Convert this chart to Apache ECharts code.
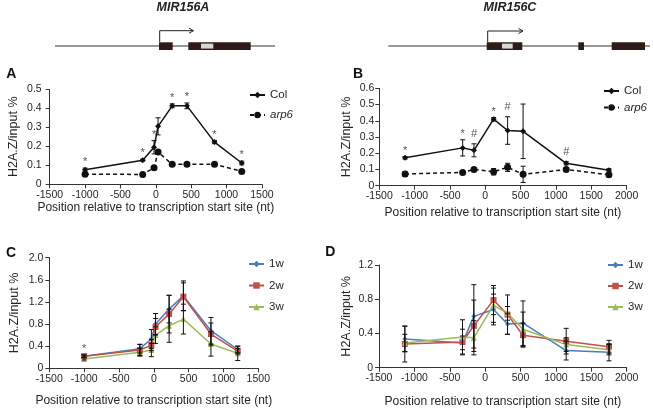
<!DOCTYPE html>
<html><head><meta charset="utf-8">
<script src="https://cdn.jsdelivr.net/npm/echarts@6/dist/echarts.min.js"></script>
<style>html,body{margin:0;padding:0;background:#fff}#c{width:653px;height:409px}</style>
</head><body><div id="c"></div>
<script>
// ---- Panel A (MIR156A): Col vs arp6 ----
var xA = [-1000, -185, -25, 32, 232, 440, 830, 1215];
var colA = [0.077, 0.127, 0.195, 0.305, 0.413, 0.413, 0.222, 0.112];
var colAErr = [0.008, 0.005, 0.035, 0.045, 0.01, 0.015, 0.008, 0.01];
var arpA = [0.053, 0.052, 0.087, 0.17, 0.105, 0.105, 0.105, 0.068];
var arpAErr = [0.005, 0.008, 0.005, 0.01, 0.006, 0.005, 0.006, 0.005];
var marksA = ['*', '*', '*', '', '*', '*', '*', '*'];

// ---- Panel B (MIR156C): Col vs arp6 ----
var xB = [-1135, -320, -160, 118, 316, 535, 1145, 1750];
var colB = [0.172, 0.233, 0.218, 0.41, 0.34, 0.335, 0.138, 0.095];
var colBErr = [0.008, 0.05, 0.04, 0.01, 0.085, 0.168, 0.01, 0.01];
var arpB = [0.072, 0.082, 0.1, 0.086, 0.113, 0.07, 0.1, 0.067];
var arpBErr = [0.015, 0.005, 0.006, 0.02, 0.025, 0.05, 0.012, 0.006];
var marksB = ['*', '*', '#', '*', '#', '', '#', ''];

// ---- Panel C (MIR156A): 1w / 2w / 3w ----
var xC = [-1000, -200, -35, 25, 220, 425, 820, 1205];
var w1C = [0.22, 0.355, 0.53, 0.80, 1.07, 1.31, 0.68, 0.34];
var w2C = [0.22, 0.33, 0.42, 0.75, 0.98, 1.295, 0.62, 0.31];
var w3C = [0.17, 0.29, 0.33, 0.60, 0.77, 0.89, 0.44, 0.27];
var e1C = [0.02, 0.08, 0.17, 0.19, 0.25, 0.27, 0.24, 0.06];
var e2C = [0.02, 0.10, 0.10, 0.15, 0.34, 0.25, 0.20, 0.05];
var e3C = [0.02, 0.07, 0.12, 0.15, 0.30, 0.27, 0.22, 0.13];
var marksC = ['*', '', '', '', '', '', '', ''];

// ---- Panel D (MIR156C): 1w / 2w / 3w ----
var xD = [-1135, -320, -160, 118, 316, 535, 1145, 1750];
var w1D = [0.335, 0.29, 0.60, 0.68, 0.51, 0.52, 0.20, 0.18];
var w2D = [0.277, 0.30, 0.49, 0.79, 0.62, 0.38, 0.31, 0.245];
var w3D = [0.29, 0.36, 0.35, 0.73, 0.635, 0.45, 0.27, 0.21];
var e1D = [0.15, 0.08, 0.37, 0.18, 0.12, 0.26, 0.11, 0.10];
var e2D = [0.21, 0.15, 0.30, 0.17, 0.23, 0.14, 0.15, 0.075];
var e3D = [0.10, 0.20, 0.20, 0.20, 0.08, 0.20, 0.08, 0.06];

var yTicksA = {min: 0, max: 0.5, interval: 0.1};
var yTicksB = {min: 0, max: 0.6, interval: 0.1};
var yTicksC = {min: 0, max: 2.0, interval: 0.4};
var yTicksD = {min: 0, max: 1.2, interval: 0.4};
var xTicksA = {min: -1500, max: 1500, interval: 500};
var xTicksB = {min: -1500, max: 2000, interval: 500};

var FONT = '"Liberation Sans", Arial, sans-serif';
var TXT = '#262626';
var chart = echarts.init(document.getElementById('c'), null, {renderer: 'canvas'});

function pairs(xs, ys) { return xs.map(function (x, i) { return [x, ys[i]]; }); }
function errData(xs, ys, es) { return xs.map(function (x, i) { return [x, ys[i], es[i]]; }); }

function errSeries(idx, xs, ys, es, marks) {
  return {
    type: 'custom', xAxisIndex: idx, yAxisIndex: idx, z: 5, silent: true,
    encode: {x: 0, y: 1},
    data: errData(xs, ys, es),
    renderItem: function (params, api) {
      var x = api.value(0), y = api.value(1), e = api.value(2);
      var t = api.coord([x, y + e]), b = api.coord([x, y - e]);
      var w = 2.5;
      var st = {stroke: '#111', lineWidth: 1};
      var ch = [
        {type: 'line', shape: {x1: t[0], y1: t[1], x2: b[0], y2: b[1]}, style: st},
        {type: 'line', shape: {x1: t[0] - w, y1: t[1], x2: t[0] + w, y2: t[1]}, style: st},
        {type: 'line', shape: {x1: b[0] - w, y1: b[1], x2: b[0] + w, y2: b[1]}, style: st}
      ];
      var m = marks ? marks[params.dataIndex] : '';
      if (m) {
        ch.push({type: 'text', style: {text: m, x: t[0], y: t[1] - (m === '*' ? 6 : 10),
          align: 'center', verticalAlign: 'middle', fill: '#555', font: '11px ' + FONT}});
      }
      return {type: 'group', children: ch};
    }
  };
}

function lineSeries(idx, name, xs, ys, color, symbol, size, dashed) {
  return {
    type: 'line', name: name, xAxisIndex: idx, yAxisIndex: idx, z: 3,
    data: pairs(xs, ys), symbol: symbol, symbolSize: size, showSymbol: true,
    lineStyle: {color: color, width: 1.5, type: dashed ? [4, 3] : 'solid'},
    itemStyle: {color: color, borderWidth: 0},
    emphasis: {disabled: true}, animation: false
  };
}

function xAx(idx, ticks, nameGap) {
  return {
    type: 'value', gridIndex: idx, min: ticks.min, max: ticks.max, interval: ticks.interval,
    name: 'Position relative to transcription start site (nt)', nameLocation: 'middle', nameGap: nameGap,
    nameTextStyle: {fontSize: 12, color: TXT, fontFamily: FONT},
    axisLine: {onZero: false, lineStyle: {color: '#333', width: 1}},
    axisTick: {show: true, length: 4, inside: false, lineStyle: {color: '#333'}},
    axisLabel: {fontSize: 10.5, color: TXT, fontFamily: FONT, margin: 5,
      formatter: function (v) { return String(Math.round(v)); }},
    splitLine: {show: false}
  };
}
function yAx(idx, ticks, nameGap, margin) {
  return {
    type: 'value', gridIndex: idx, min: ticks.min, max: ticks.max, interval: ticks.interval,
    name: 'H2A.Z/input %', nameLocation: 'middle', nameGap: nameGap, nameRotate: 90,
    nameTextStyle: {fontSize: 12.5, color: TXT, fontFamily: FONT},
    axisLine: {show: true, onZero: false, lineStyle: {color: '#333', width: 1}},
    axisTick: {show: true, length: 4, inside: false, lineStyle: {color: '#333'}},
    axisLabel: {fontSize: 10.5, color: TXT, fontFamily: FONT, margin: margin,
      formatter: function (v) { return Math.abs(v) < 1e-9 ? '0' : v.toFixed(1); }},
    splitLine: {show: false}
  };
}

var legText = {fontSize: 11.5, color: TXT, fontFamily: FONT, rich: {i: {fontStyle: 'italic', fontSize: 11.5, color: TXT, fontFamily: FONT}}};
function legend(left, top, names, gap) {
  return {
    left: left, top: top, orient: 'vertical', data: names, itemWidth: 15, itemHeight: 8, itemGap: gap,
    selectedMode: false, textStyle: legText, padding: 0,
    formatter: function (n) { return n === 'arp6' ? '{i|arp6}' : n; }
  };
}

var geneColor = '#2e1d16';
function geneA() {
  return [
    {type: 'line', shape: {x1: 55, y1: 46, x2: 275, y2: 46}, style: {stroke: '#333', lineWidth: 1.2}},
    {type: 'rect', shape: {x: 159, y: 42.3, width: 13.7, height: 7.7}, style: {fill: geneColor}},
    {type: 'rect', shape: {x: 188.3, y: 42.3, width: 62.4, height: 7.7}, style: {fill: geneColor}},
    {type: 'rect', shape: {x: 201, y: 43.6, width: 12.3, height: 5}, style: {fill: '#d6d6d6'}},
    {type: 'polyline', shape: {points: [[159.7, 42], [159.7, 30.7], [193, 30.7]]}, style: {stroke: '#222', lineWidth: 1, fill: null}},
    {type: 'polyline', shape: {points: [[189, 28.2], [193.5, 30.7], [189, 33.2]]}, style: {stroke: '#222', lineWidth: 1, fill: null}},
    {type: 'text', style: {text: 'MIR156A', x: 183, y: 8, align: 'center', verticalAlign: 'middle', font: 'italic bold 12.5px ' + FONT, fill: '#222'}}
  ];
}
function geneC() {
  return [
    {type: 'line', shape: {x1: 388.3, y1: 46, x2: 650, y2: 46}, style: {stroke: '#333', lineWidth: 1.2}},
    {type: 'rect', shape: {x: 486.7, y: 42.3, width: 35.6, height: 7.7}, style: {fill: geneColor}},
    {type: 'rect', shape: {x: 502, y: 43.6, width: 10.7, height: 5}, style: {fill: '#d6d6d6'}},
    {type: 'rect', shape: {x: 578.3, y: 42.3, width: 5.7, height: 7.7}, style: {fill: geneColor}},
    {type: 'rect', shape: {x: 611.7, y: 42.3, width: 33.3, height: 7.7}, style: {fill: geneColor}},
    {type: 'polyline', shape: {points: [[487.7, 42], [487.7, 31], [522.5, 31]]}, style: {stroke: '#222', lineWidth: 1, fill: null}},
    {type: 'polyline', shape: {points: [[518.5, 28.5], [523, 31], [518.5, 33.5]]}, style: {stroke: '#222', lineWidth: 1, fill: null}},
    {type: 'text', style: {text: 'MIR156C', x: 510, y: 8, align: 'center', verticalAlign: 'middle', font: 'italic bold 12.5px ' + FONT, fill: '#222'}}
  ];
}
function letter(t, x, y) {
  return {type: 'text', style: {text: t, x: x, y: y, align: 'center', verticalAlign: 'middle', font: 'bold 14px ' + FONT, fill: '#111'}};
}

var BLUE = '#4a7ebb', RED = '#c0504d', GREEN = '#9bbb59';

var option = {
  animation: false,
  backgroundColor: '#fff',
  textStyle: {fontFamily: FONT},
  grid: [
    {left: 49.7, top: 89.3, width: 212.2, height: 95, outerBoundsMode: 'none', containLabel: false},
    {left: 379.3, top: 88.3, width: 247.3, height: 97.4, outerBoundsMode: 'none', containLabel: false},
    {left: 49.3, top: 257.7, width: 209, height: 110.6, outerBoundsMode: 'none', containLabel: false},
    {left: 379, top: 265, width: 247.7, height: 102.7, outerBoundsMode: 'none', containLabel: false}
  ],
  xAxis: [xAx(0, xTicksA, 16), xAx(1, xTicksB, 21), xAx(2, xTicksA, 26), xAx(3, xTicksB, 28)],
  yAxis: [yAx(0, yTicksA, 30, 8), yAx(1, yTicksB, 26, 5), yAx(2, yTicksC, 28, 6), yAx(3, yTicksD, 26, 6)],
  legend: [
    legend(249, 89, ['Col', 'arp6'], 8),
    legend(603, 85, ['Col', 'arp6'], 4.5),
    legend(248, 258, ['1w', '2w', '3w'], 9.5),
    legend(607, 259, ['1w', '2w', '3w'], 9)
  ],
  graphic: [].concat(geneA(), geneC(), [
    letter('A', 11.3, 74.6), letter('B', 358, 74.3), letter('C', 11, 253.3), letter('D', 330.3, 252.3)
  ]),
  series: [
    lineSeries(0, 'Col', xA, colA, '#111', 'diamond', 6, false),
    lineSeries(0, 'arp6', xA, arpA, '#111', 'circle', 7, true),
    errSeries(0, xA, colA, colAErr, marksA),
    errSeries(0, xA, arpA, arpAErr, null),

    lineSeries(1, 'Col', xB, colB, '#111', 'diamond', 6, false),
    lineSeries(1, 'arp6', xB, arpB, '#111', 'circle', 7, true),
    errSeries(1, xB, colB, colBErr, marksB),
    errSeries(1, xB, arpB, arpBErr, null),

    lineSeries(2, '1w', xC, w1C, BLUE, 'diamond', 5, false),
    lineSeries(2, '2w', xC, w2C, RED, 'rect', 6, false),
    lineSeries(2, '3w', xC, w3C, GREEN, 'triangle', 6, false),
    errSeries(2, xC, w1C, e1C, null),
    errSeries(2, xC, w2C, e2C, marksC),
    errSeries(2, xC, w3C, e3C, null),

    lineSeries(3, '1w', xD, w1D, BLUE, 'diamond', 5, false),
    lineSeries(3, '2w', xD, w2D, RED, 'rect', 6, false),
    lineSeries(3, '3w', xD, w3D, GREEN, 'triangle', 6, false),
    errSeries(3, xD, w1D, e1D, null),
    errSeries(3, xD, w2D, e2D, null),
    errSeries(3, xD, w3D, e3D, null)
  ]
};
chart.setOption(option);
</script>
</body></html>
